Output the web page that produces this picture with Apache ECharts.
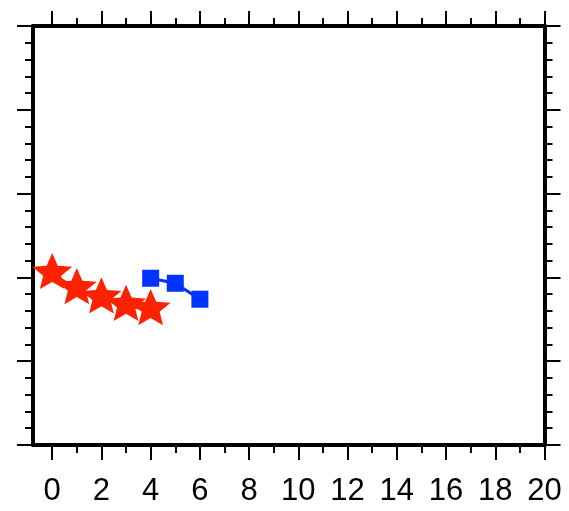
<!DOCTYPE html>
<html>
<head>
<meta charset="utf-8">
<script src="https://cdn.jsdelivr.net/npm/echarts@6/dist/echarts.min.js"></script>
<style>html,body{margin:0;padding:0;background:#fff}#c{width:569px;height:511px}</style>
</head>
<body>
<div id="c"></div>
<script>
var starX = [0, 1, 2, 3, 4];
var starY = [2.04, 1.86, 1.75, 1.66, 1.61];
var squareX = [4, 5, 6];
var squareY = [1.99, 1.93, 1.74];
var xMajorTicks = [0, 2, 4, 6, 8, 10, 12, 14, 16, 18, 20];
var xMinorTicks = [1, 3, 5, 7, 9, 11, 13, 15, 17, 19];
var xMin = -0.78, xMax = 20;
var yMin = 0, yMax = 5;

var starPath = 'path://M50,0 L63.23,31.8 L97.55,34.55 L71.4,56.95 L79.39,90.45 L50,72.5 L20.61,90.45 L28.6,56.95 L2.45,34.55 L36.77,31.8 Z';

function pairs(xs, ys) { return xs.map(function (x, i) { return [x, ys[i]]; }); }

var lineStyleAxis = { color: '#000', width: 4 };
function xAx(pos, ticks, len, showLine, showLabel) {
  return {
    type: 'value', position: pos, min: xMin, max: xMax, gridIndex: 0,
    axisLine: { show: showLine, onZero: false, lineStyle: lineStyleAxis },
    axisTick: { show: true, inside: false, length: len, customValues: ticks, lineStyle: { color: '#000', width: 2 } },
    axisLabel: showLabel ? { show: true, customValues: xMajorTicks, margin: 31, fontSize: 31, color: '#000', fontFamily: 'Liberation Sans' } : { show: false },
    splitLine: { show: false }
  };
}
function yAx(pos, interval, len, showLine) {
  return {
    type: 'value', position: pos, min: yMin, max: yMax, interval: interval, gridIndex: 0,
    axisLine: { show: showLine, onZero: false, lineStyle: lineStyleAxis },
    axisTick: { show: true, inside: false, length: len, lineStyle: { color: '#000', width: 2 } },
    axisLabel: { show: false },
    splitLine: { show: false }
  };
}

var chart = echarts.init(document.getElementById('c'), null, { renderer: 'canvas' });
chart.setOption({
  animation: false,
  backgroundColor: '#fff',
  grid: { left: 33, right: 24.5, top: 26, bottom: 66, containLabel: false },
  xAxis: [
    xAx('bottom', xMajorTicks, 15, true, true),
    xAx('bottom', xMinorTicks, 8, false, false),
    xAx('top', xMajorTicks, 15, true, false),
    xAx('top', xMinorTicks, 8, false, false)
  ],
  yAxis: [
    yAx('left', 1, 16, true),
    yAx('left', 0.2, 8, false),
    yAx('right', 1, 16, true),
    yAx('right', 0.2, 8, false)
  ],
  series: [
    {
      type: 'line', xAxisIndex: 0, yAxisIndex: 0,
      data: pairs(starX, starY),
      symbol: starPath, symbolSize: [40, 38], symbolKeepAspect: true, symbolOffset: [0, -3],
      itemStyle: { color: '#ff2200' },
      lineStyle: { color: '#ff2200', width: 3 }
    },
    {
      type: 'line', xAxisIndex: 0, yAxisIndex: 0,
      data: pairs(squareX, squareY),
      symbol: 'rect', symbolSize: 17,
      itemStyle: { color: '#0033ff' },
      lineStyle: { color: '#0033ff', width: 3 }
    }
  ]
});
</script>
</body>
</html>
